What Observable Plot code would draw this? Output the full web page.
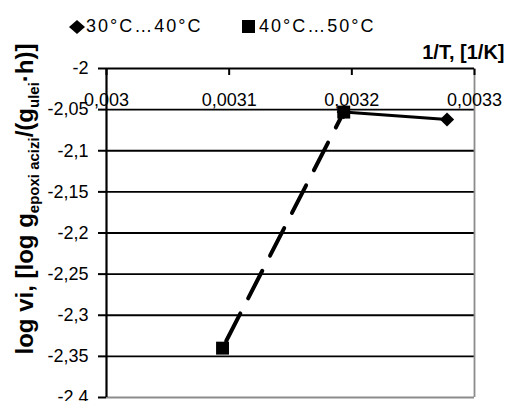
<!DOCTYPE html>
<html><head><meta charset="utf-8">
<script src="https://cdn.jsdelivr.net/npm/d3@7"></script>
<script src="https://cdn.jsdelivr.net/npm/@observablehq/plot@0.6"></script>
<style>
body{margin:0;background:#fff;font-family:Arial,"Liberation Sans",sans-serif;}
#legend{position:relative;height:40px;width:506px;}
.lg{position:absolute;font-size:18px;line-height:18px;letter-spacing:2px;color:#000;white-space:nowrap;}
.mk{position:absolute;}
</style></head><body>
<div id="legend"></div><div id="chart"></div>
<script>
const seriesNames = ["30°C…40°C", "40°C…50°C"];
const invT1 = [0.0031934, 0.0032776];
const logV1 = [-2.053, -2.062];
const invT2 = [0.0030946, 0.0031934];
const logV2 = [-2.340, -2.053];
const xTicks = [0.003, 0.0031, 0.0032, 0.0033];
const yTicks = [-2, -2.05, -2.1, -2.15, -2.2, -2.25, -2.3, -2.35, -2.4];
const xLabel = "1/T, [1/K]";

const s1 = invT1.map((x, i) => ({x, y: logV1[i]}));
const s2 = invT2.map((x, i) => ({x, y: logV2[i]}));
const fmt = d => String(d).replace(".", ",");

// legend
const lg = document.getElementById("legend");
lg.innerHTML =
  `<svg class="mk" style="left:69px;top:20px" width="16" height="14"><path d="M8,0L16,7L8,14L0,7Z" fill="#000"/></svg>` +
  `<span class="lg" style="left:86px;top:17px">${seriesNames[0]}</span>` +
  `<svg class="mk" style="left:242px;top:20px" width="13" height="13"><rect width="13" height="13" fill="#000"/></svg>` +
  `<span class="lg" style="left:259px;top:17px">${seriesNames[1]}</span>`;

const W = 506, ML = 106, MR = 32;
const plotW = W - ML - MR;
const plot = Plot.plot({
  width: W, height: 361,
  marginTop: 28, marginBottom: 4, marginLeft: ML, marginRight: MR,
  style: {fontFamily: "Arial, 'Liberation Sans', sans-serif", fontSize: "18px", background: "#fff", overflow: "visible"},
  x: {domain: [0.003, 0.0033]},
  y: {domain: [-2.4, -2]},
  marks: [
    Plot.ruleY(yTicks.slice(1, -1), {stroke: "#000", strokeWidth: 1.8}),
    Plot.ruleY([-2.4], {stroke: "#8c8c8c", strokeWidth: 1.8}),
    Plot.ruleX([0.0033], {stroke: "#8c8c8c", strokeWidth: 1.8}),
    Plot.ruleY([-2], {stroke: "#000", strokeWidth: 2.2}),
    Plot.ruleX([0.003], {stroke: "#000", strokeWidth: 2.2}),
    // y tick marks (outward, 8px)
    Plot.tickY(yTicks, {y: d => d, insetLeft: -8, insetRight: plotW, stroke: "#000", strokeWidth: 2}),
    // y tick labels
    Plot.axisY({ticks: yTicks, tickFormat: fmt, tickSize: 0, tickPadding: 0, dx: -18, label: null, color: "#000", fontSize: 18, letterSpacing: 1.8}),
    Plot.axisX({anchor: "top", ticks: xTicks, tickFormat: fmt, tickSize: -6, tickPadding: -31, strokeWidth: 2, label: null, color: "#000", fontSize: 18, letterSpacing: 1.8}),
    Plot.line(s1, {x: "x", y: "y", stroke: "#000", strokeWidth: 3}),
    Plot.dot(s1, {x: "x", y: "y", symbol: "diamond2", r: 6.4, fill: "#000", stroke: "none"}),
    Plot.line(s2, {x: "x", y: "y", stroke: "#000", strokeWidth: 4, strokeDasharray: "31,17", strokeDashoffset: -8}),
    Plot.dot(s2, {x: "x", y: "y", symbol: "square", r: 7.3, fill: "#000", stroke: "none"}),
    Plot.text([xLabel], {frameAnchor: "top-right", dx: 30, dy: -10, fontWeight: "bold", fontSize: 20, textAnchor: "end", lineAnchor: "bottom", fill: "#000", letterSpacing: 3.5})
  ]
});
document.getElementById("chart").appendChild(plot);

// y-axis title with subscripts
const svg = d3.select(plot);
const t = svg.append("text")
  .attr("transform", `translate(33,${199 - 40}) rotate(-90)`)
  .attr("text-anchor", "middle")
  .attr("font-weight", "bold")
  .attr("font-size", 24)
  .attr("font-family", "Arial, 'Liberation Sans', sans-serif")
  .attr("fill", "#000");
t.append("tspan").text("log vi, [log g");
t.append("tspan").attr("font-size", 15).attr("dy", 6).text("epoxi acizi");
t.append("tspan").attr("dy", -6).text("/(g");
t.append("tspan").attr("font-size", 15).attr("dy", 6).text("ulei");
t.append("tspan").attr("dy", -6).text("·h)]");
</script>
</body></html>
